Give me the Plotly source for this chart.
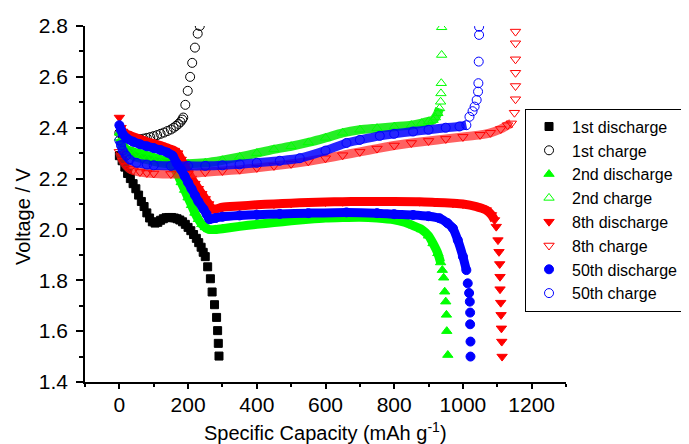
import plotly.graph_objects as go

# ---------------- data ----------------
x_ticks = [0, 200, 400, 600, 800, 1000, 1200]
y_ticks = [1.4, 1.6, 1.8, 2.0, 2.2, 2.4, 2.6, 2.8]
y_tick_labels = ["1.4", "1.6", "1.8", "2.0", "2.2", "2.4", "2.6", "2.8"]

names = ["1st discharge", "1st charge", "2nd discharge", "2nd charge",
         "8th discharge", "8th charge", "50th discharge", "50th charge"]

d1_x = [0, 8, 16, 24, 32, 40, 48, 56, 64, 72, 80, 88, 96, 104, 112, 120, 128, 136, 144,
        152, 160, 168, 176, 184, 192, 200, 208, 216, 224, 231, 238, 244, 250, 257, 265,
        270, 277, 283, 286, 288, 290]
d1_y = [2.29, 2.27, 2.245, 2.22, 2.2, 2.18, 2.16, 2.135, 2.11, 2.09, 2.065, 2.045, 2.03,
        2.025, 2.028, 2.036, 2.042, 2.046, 2.047, 2.047, 2.045, 2.042, 2.037, 2.03, 2.02,
        2.008, 1.995, 1.98, 1.965, 1.948, 1.93, 1.91, 1.893, 1.853, 1.806, 1.754, 1.704,
        1.654, 1.602, 1.552, 1.502]

c1_x = [0, 10, 20, 30, 40, 50, 60, 70, 80, 90, 100, 110, 120, 130, 140, 150, 158, 165,
        172, 178, 183, 186, 192, 199, 206, 212, 220, 228, 234]
c1_y = [2.38, 2.37, 2.364, 2.36, 2.357, 2.355, 2.355, 2.357, 2.36, 2.363, 2.367, 2.371,
        2.376, 2.381, 2.387, 2.393, 2.4, 2.407, 2.415, 2.423, 2.432, 2.44, 2.49, 2.545,
        2.6, 2.655, 2.715, 2.77, 2.8]

d2_x = [0, 5, 10, 20, 40, 60, 80, 100, 120, 140, 150, 160, 170, 180, 190, 200, 210, 220,
        230, 240, 250, 260, 280, 300, 350, 400, 450, 500, 550, 600, 650, 700, 750, 800,
        830, 855, 880, 900, 913, 927, 935, 940, 944, 947, 950, 952, 953, 956]
d2_y = [2.38, 2.35, 2.33, 2.315, 2.305, 2.298, 2.29, 2.283, 2.275, 2.265, 2.255, 2.24,
        2.215, 2.185, 2.155, 2.125, 2.095, 2.065, 2.04, 2.02, 2.008, 2.0, 2.0, 2.003,
        2.012, 2.02, 2.027, 2.034, 2.04, 2.045, 2.047, 2.048, 2.045, 2.038, 2.028, 2.015,
        2.0, 1.975, 1.945, 1.906, 1.87, 1.84, 1.81, 1.755, 1.716, 1.664, 1.6, 1.506]

c2_x = [0, 10, 20, 40, 60, 80, 100, 120, 150, 200, 250, 300, 350, 400, 450, 500, 550, 600,
        650, 700, 750, 800, 850, 880, 900, 913, 920, 927, 932, 935, 936, 937, 938, 938]
c2_y = [2.36, 2.33, 2.31, 2.29, 2.28, 2.275, 2.268, 2.262, 2.258, 2.258, 2.262, 2.272,
        2.285, 2.3, 2.315, 2.327, 2.342, 2.36, 2.38, 2.392, 2.398, 2.404, 2.41, 2.418,
        2.425, 2.43, 2.44, 2.457, 2.476, 2.502, 2.535, 2.575, 2.686, 2.795]

d8_x = [0, 5, 10, 20, 40, 60, 80, 100, 120, 140, 160, 170, 180, 190, 200, 210, 220, 230,
        240, 250, 260, 270, 280, 300, 350, 400, 450, 500, 550, 600, 650, 700, 750, 800,
        874, 923, 971, 1000, 1039, 1055, 1068, 1083, 1092, 1097, 1102, 1105, 1107, 1108,
        1108, 1110, 1111, 1112, 1113, 1114]
d8_y = [2.44, 2.4, 2.385, 2.375, 2.365, 2.355, 2.345, 2.338, 2.33, 2.32, 2.31, 2.3, 2.275,
        2.25, 2.225, 2.2, 2.18, 2.16, 2.14, 2.12, 2.1, 2.08, 2.08, 2.087, 2.092, 2.097,
        2.1, 2.103, 2.106, 2.108, 2.109, 2.11, 2.11, 2.11, 2.109, 2.106, 2.103, 2.1, 2.09,
        2.083, 2.076, 2.057, 2.037, 2.011, 1.958, 1.912, 1.864, 1.814, 1.765, 1.712,
        1.664, 1.611, 1.559, 1.5]

c8_x = [0, 10, 20, 30, 40, 60, 80, 100, 150, 200, 250, 300, 350, 400, 450, 500, 550, 600,
        650, 700, 750, 800, 850, 900, 950, 1000, 1050, 1080, 1110, 1130, 1141, 1150, 1153,
        1153, 1153, 1153, 1153, 1153]
c8_y = [2.305, 2.27, 2.25, 2.238, 2.232, 2.226, 2.222, 2.22, 2.218, 2.22, 2.225, 2.23,
        2.235, 2.242, 2.25, 2.258, 2.268, 2.28, 2.292, 2.305, 2.318, 2.33, 2.34, 2.348,
        2.356, 2.364, 2.372, 2.38, 2.395, 2.41, 2.417, 2.459, 2.512, 2.564, 2.616, 2.669,
        2.732, 2.778]

d50_x = [0, 5, 10, 20, 40, 60, 80, 100, 120, 140, 155, 167, 180, 190, 200, 210, 220, 230,
         245, 254, 262, 280, 300, 350, 400, 467, 550, 661, 750, 800, 855, 900, 932, 955,
         971, 985, 1000, 1010, 1014, 1018, 1020, 1021, 1021, 1022, 1022]
d50_y = [2.41, 2.39, 2.375, 2.36, 2.345, 2.335, 2.327, 2.32, 2.312, 2.302, 2.29, 2.26,
         2.235, 2.21, 2.185, 2.16, 2.135, 2.11, 2.08, 2.06, 2.04, 2.045, 2.05, 2.055,
         2.058, 2.061, 2.064, 2.067, 2.064, 2.06, 2.057, 2.052, 2.044, 2.025, 2.004,
         1.958, 1.893, 1.84, 1.788, 1.75, 1.716, 1.673, 1.627, 1.559, 1.5]

c50_x = [0, 5, 10, 20, 30, 50, 80, 100, 150, 200, 250, 300, 350, 400, 467, 525, 600, 661,
         700, 758, 800, 855, 900, 950, 990, 1010, 1019, 1028, 1034, 1040, 1044, 1045,
         1046, 1047, 1047]
c50_y = [2.35, 2.33, 2.31, 2.29, 2.275, 2.262, 2.255, 2.252, 2.25, 2.25, 2.25, 2.252,
         2.256, 2.262, 2.27, 2.28, 2.31, 2.34, 2.352, 2.368, 2.376, 2.385, 2.392, 2.4,
         2.405, 2.41, 2.443, 2.465, 2.483, 2.509, 2.542, 2.575, 2.66, 2.765, 2.797]

xs = [d1_x, c1_x, d2_x, c2_x, d8_x, c8_x, d50_x, c50_x]
ys = [d1_y, c1_y, d2_y, c2_y, d8_y, c8_y, d50_y, c50_y]
for a, b in zip(xs, ys):
    assert len(a) == len(b), (len(a), len(b))

# ---------------- styles ----------------
colors = ["#000000", "#000000", "#00ff00", "#00ff00", "#ff0000", "#ff0000", "#0000ff", "#0000ff"]
symbols = ["square", "circle-open", "triangle-up", "triangle-up-open",
           "triangle-down", "triangle-down-open", "circle", "circle-open"]
sizes = [8, 9, 9, 9, 9, 9, 9, 9]
# (start, end) index range of the densely sampled part drawn as a thick band
band = [None, None, (1, 41), (0, 29), (1, 43), (0, 31), (0, 38), (0, 26)]
band_colors = [None, None, "#00ff00", "rgba(0,235,0,0.85)", "#ff0000",
               "rgba(255,30,30,0.7)", "#0000ff", "rgba(0,0,255,0.85)"]
band_width = 9

fig = go.Figure()
for i in range(len(names)):
    if band[i] is not None:
        s, e = band[i]
        fig.add_trace(go.Scatter(
            x=xs[i][s:e], y=ys[i][s:e], mode="lines", showlegend=False, hoverinfo="skip",
            line=dict(color=band_colors[i], width=band_width, shape="spline", smoothing=0.6)))
    fig.add_trace(go.Scatter(
        x=xs[i], y=ys[i], mode="markers", name=names[i],
        marker=dict(symbol=symbols[i], size=sizes[i], color=colors[i],
                    line=dict(width=1, color=colors[i]))))

font_family = "Liberation Sans, Arial, sans-serif"
# the page body adds an 8px offset, so the figure is made 8px smaller on the left/top
fig.update_layout(
    width=681, height=436,
    margin=dict(l=77, r=123, t=18, b=62, autoexpand=False),
    paper_bgcolor="white", plot_bgcolor="white",
    font=dict(family=font_family, size=20, color="black"),
    legend=dict(x=0.9148, y=0.768, xanchor="left", yanchor="top",
                bgcolor="white", bordercolor="black", borderwidth=1,
                font=dict(size=16), tracegroupgap=0, itemwidth=36),
    annotations=[
        dict(text="Specific Capacity (mAh g<sup>-1</sup>)", xref="paper", yref="paper",
             x=0.5, y=-0.14, xanchor="center", yanchor="middle", showarrow=False,
             font=dict(size=20)),
        dict(text="Voltage / V", xref="paper", yref="paper", x=-0.128, y=0.465,
             xanchor="center", yanchor="middle", textangle=-90, showarrow=False,
             font=dict(size=20)),
    ],
)
fig.update_xaxes(
    range=[-100, 1300], tickmode="array", tickvals=x_ticks,
    ticks="outside", ticklen=5, tickwidth=1.5, tickcolor="black",
    showline=True, linecolor="black", linewidth=1.5,
    showgrid=False, zeroline=False, tickfont=dict(size=21), ticklabelstandoff=-2,
    minor=dict(tickmode="linear", tick0=-100, dtick=100, ticks="outside", ticklen=3,
               tickwidth=1.5, tickcolor="black", showgrid=False),
)
fig.update_yaxes(
    range=[1.4, 2.8], tickmode="array", tickvals=y_ticks, ticktext=y_tick_labels,
    ticks="outside", ticklen=7, tickwidth=1.5, tickcolor="black",
    showline=True, linecolor="black", linewidth=1.5,
    showgrid=False, zeroline=False, tickfont=dict(size=21), ticklabelstandoff=4,
    minor=dict(tickmode="linear", tick0=1.4, dtick=0.1, ticks="outside", ticklen=4,
               tickwidth=1.5, tickcolor="black", showgrid=False),
)

fig.write_html("out.html")
